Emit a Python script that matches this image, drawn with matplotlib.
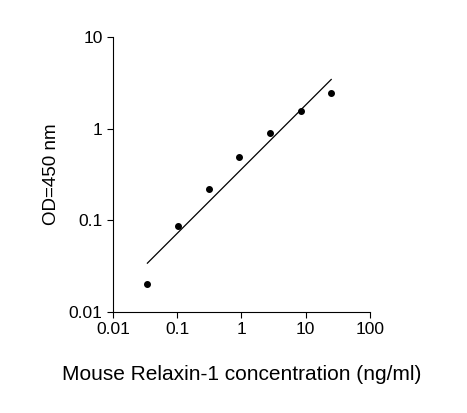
import numpy as np
import matplotlib
matplotlib.use('agg')
import matplotlib.pyplot as plt

plt.rcParams['font.family'] = ['Liberation Sans', 'DejaVu Sans']

conc = [0.0343, 0.103, 0.309, 0.926, 2.78, 8.33, 25.0]
od = [0.020, 0.087, 0.22, 0.49, 0.89, 1.55, 2.45]
fit_x = [0.0343, 25.0]
fit_y = [0.034, 3.45]

fig = plt.figure(figsize=(4.67, 4.13), dpi=100)
ax = fig.add_axes([0.242, 0.245, 0.55, 0.665])
ax.plot(conc, od, 'o', color='black', markersize=4)
ax.plot(fit_x, fit_y, '-', color='black', linewidth=0.9)
ax.set_xscale('log')
ax.set_yscale('log')
ax.set_xlim(0.01, 100)
ax.set_ylim(0.01, 10)
ax.set_xticks([0.01, 0.1, 1, 10, 100])
ax.set_xticklabels(['0.01', '0.1', '1', '10', '100'])
ax.set_yticks([0.01, 0.1, 1, 10])
ax.set_yticklabels(['0.01', '0.1', '1', '10'])
ax.minorticks_off()
ax.tick_params(labelsize=12.5, direction='out', length=4)
for s in ['top', 'right']:
    ax.spines[s].set_visible(False)
ax.set_xlabel('Mouse Relaxin-1 concentration (ng/ml)', fontsize=15, labelpad=20)
ax.set_ylabel('OD=450 nm', fontsize=13.5, labelpad=6)
fig.savefig('out.png', dpi=100)
